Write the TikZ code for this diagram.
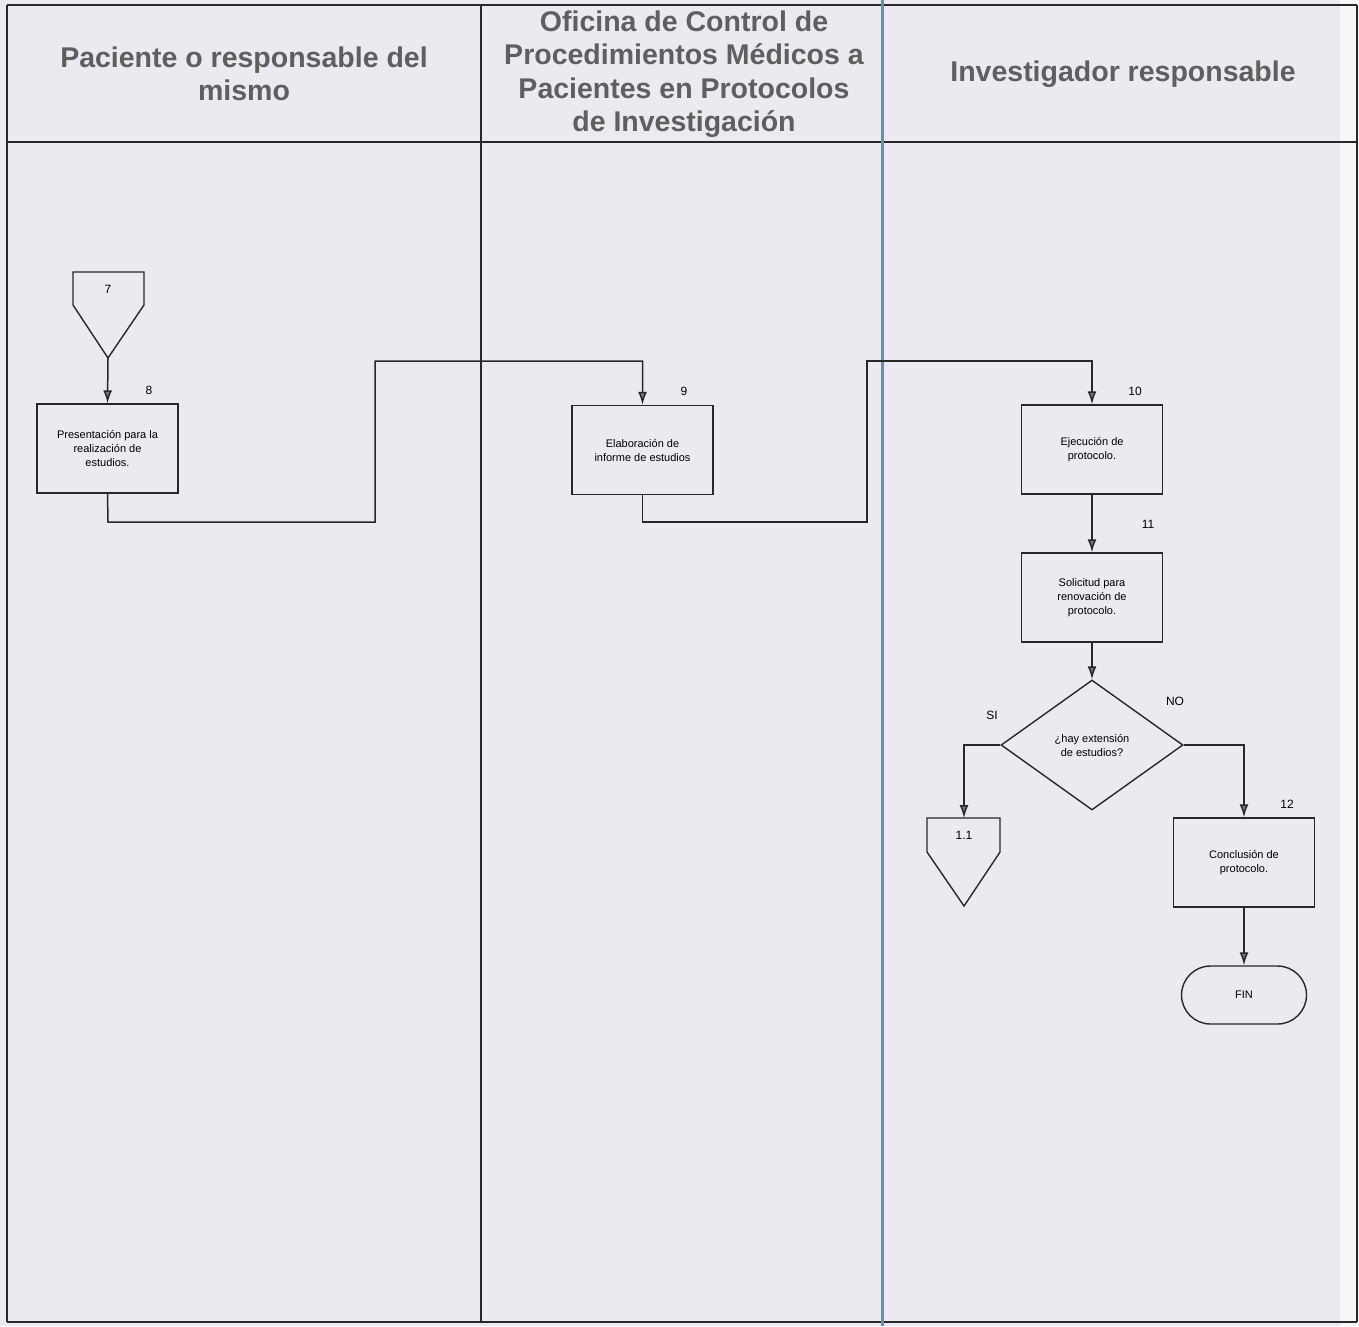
\documentclass[tikz,border=0pt]{standalone}
\usepackage{fontspec}
\setmainfont{Liberation Sans}
\usetikzlibrary{arrows.meta,shapes.geometric}
\definecolor{bgc}{RGB}{234,234,240}
\definecolor{linec}{RGB}{40,40,40}
\definecolor{foldc}{RGB}{110,140,165}
\definecolor{headc}{RGB}{95,95,95}
\definecolor{tipc}{RGB}{110,122,128}
\tikzset{
  x=1pt,y=-1pt,
  frame/.style={draw=linec,line width=1.2pt},
  proc/.style={draw=linec,line width=1.4pt,rectangle,minimum width=141pt,minimum height=89pt,inner sep=2pt,align=center,font=\fontsize{11}{14}\selectfont},
  dec/.style={draw=linec,line width=1.4pt,diamond,aspect=1.4,minimum width=182pt,minimum height=130pt,inner sep=0pt,align=center,font=\fontsize{11}{14}\selectfont},
  term/.style={draw=linec,line width=1.4pt,rectangle,rounded corners=29pt,minimum width=125pt,minimum height=58pt,font=\fontsize{11}{14}\selectfont},
  lbl/.style={font=\fontsize{12}{13}\selectfont,inner sep=0pt},
  head/.style={font=\fontsize{28.5}{33.5}\selectfont\bfseries,text=headc,align=center},
  flow/.style={draw=linec,line width=1.5pt,-{Latex[length=13pt,width=9pt,fill=tipc]}},
  offpage/.style={draw=linec,line width=1.4pt}
}
\begin{document}
\begin{tikzpicture}
\fill[bgc] (0,0) rectangle (1359,1326);
\useasboundingbox (0,0) rectangle (1359,1326);
\fill[white!60!bgc] (1340,0) rectangle (1359,1326);
% frame
\draw[frame] (7,5) -- (1357,5);
\draw[frame] (7,142) -- (1357,142);
\draw[frame] (7,5) -- (7,1322);
\draw[frame] (481,5) -- (481,1322);
\draw[frame] (1357,5) -- (1357,1322);
\draw[frame] (7,1322) -- (1357,1322);
\draw[draw=foldc,line width=3pt] (882,0) -- (882,1326);
% headers
\node[head] (h1) at (244,74) {Paciente o responsable del\\mismo};
\node[head] (h2) at (684,74) {Oficina de Control de\\Procedimientos Médicos a\\Pacientes en Protocolos\\de Investigación};
\node[head] (h3) at (1123,74) {Investigador responsable};
% off-page connector 7
\draw[offpage] (73,272) -- (144,272) -- (144,305) -- (108,358) -- (73,305) -- cycle;
\coordinate (c7) at (108,358);
\node[lbl] (l7) at (108,289) {7};
% boxes
\node[proc] (b8) at (107.5,448.5) {Presentación para la\\realización de\\estudios.};
\node[lbl] (l8) at (149,390) {8};
\node[proc] (b9) at (642.5,450) {Elaboración de\\informe de estudios};
\node[lbl] (l9) at (684,391) {9};
\node[proc] (b10) at (1092,449.5) {Ejecución de\\protocolo.};
\node[lbl] (l10) at (1135,391) {10};
\node[proc] (b11) at (1092,597.5) {Solicitud para\\renovación de\\protocolo.};
\node[lbl] (l11) at (1148,524) {11};
\node[dec] (d) at (1092,745) {¿hay extensión\\de estudios?};
\node[lbl] (lsi) at (992,715) {SI};
\node[lbl] (lno) at (1175,701) {NO};
\node[proc] (b12) at (1244,862.5) {Conclusión de\\protocolo.};
\node[lbl] (l12) at (1287,804) {12};
\node[term] (fin) at (1244,995) {FIN};
% off-page connector 1.1
\draw[offpage] (927,818) -- (1000,818) -- (1000,852) -- (964,906) -- (927,852) -- cycle;
\coordinate (c11) at (964,818);
\node[lbl] (l11b) at (964,835) {1.1};
% waypoints
\coordinate (w1) at (108,522);
\coordinate (w2) at (375,522);
\coordinate (w3) at (375,361);
\coordinate (w4) at (642.5,361);
\coordinate (w5) at (642.5,522);
\coordinate (w6) at (867,522);
\coordinate (w7) at (867,361);
\coordinate (w8) at (1092,361);
% connectors
\draw[flow] (c7) -- (b8.north);
\draw[flow] (b8.south) -- (w1) -- (w2) -- (w3) -- (w4) -- (b9.north);
\draw[flow] (b9.south) -- (w5) -- (w6) -- (w7) -- (w8) -- (b10.north);
\draw[flow] (b10.south) -- (b11.north);
\draw[flow] (b11.south) -- (d.north);
\draw[flow] (d.west) -| (c11);
\draw[flow] (d.east) -| (b12.north);
\draw[flow] (b12.south) -- (fin.north);
\end{tikzpicture}
\end{document}
